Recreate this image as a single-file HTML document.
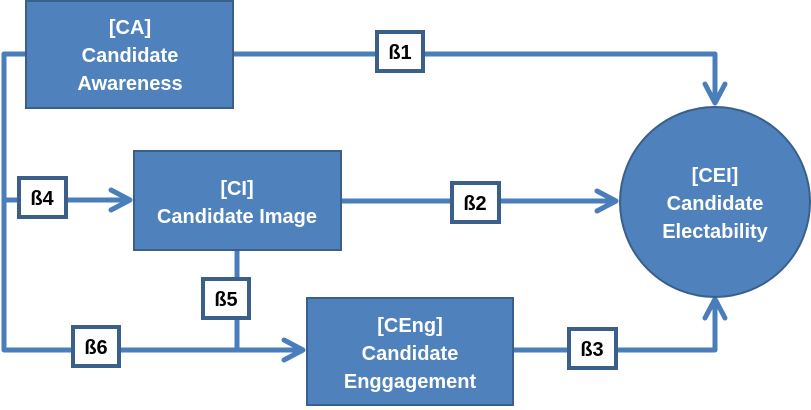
<!DOCTYPE html>
<html><head><style>
body{margin:0;background:#fff}
svg{display:block}
text{font-family:"Liberation Sans",sans-serif;font-weight:bold}
</style></head><body>
<svg width="811" height="410" viewBox="0 0 811 410">
<g stroke="#4a7ebb" stroke-width="5" fill="none" stroke-linecap="round" stroke-linejoin="round">
<polyline points="28,54 4,54 4,350 300,350"/>
<polyline points="233,54 715,54 715,100"/>
<line x1="4" y1="200" x2="128" y2="200"/>
<line x1="341" y1="201" x2="612" y2="201"/>
<line x1="237" y1="250" x2="237" y2="350"/>
<polyline points="513,350 715,350 715,303"/>
<polyline points="111,190 130,200 111,210"/>
<polyline points="284,340 303,350 284,360"/>
<polyline points="597,191 616,201 597,211"/>
<polyline points="705,84 715,103 725,84"/>
<polyline points="705,318 715,299 725,318"/>
</g>
<g fill="#4f81bd" stroke="#3a5f8b" stroke-width="2">
<rect x="26" y="1" width="207" height="107"/>
<rect x="134" y="151" width="207" height="99"/>
<rect x="307" y="298" width="206" height="107"/>
<circle cx="715" cy="202" r="95"/>
</g>
<g fill="#fff" stroke="#3a5f8b" stroke-width="4">
<rect x="377" y="32" width="46" height="39"/>
<rect x="19" y="178" width="47" height="39"/>
<rect x="452" y="183" width="47" height="39"/>
<rect x="203" y="279" width="46" height="39"/>
<rect x="73" y="327" width="46" height="39"/>
<rect x="569" y="329" width="47" height="39"/>
</g>
<g fill="#000" font-size="20" text-anchor="middle">
<text x="400" y="59">ß1</text>
<text x="42" y="205">ß4</text>
<text x="475" y="210">ß2</text>
<text x="226" y="306">ß5</text>
<text x="96" y="354">ß6</text>
<text x="592" y="356">ß3</text>
</g>
<g fill="#fff" font-size="20" text-anchor="middle">
<text x="130" y="34">[CA]</text>
<text x="130" y="62">Candidate</text>
<text x="130" y="90">Awareness</text>
<text x="237" y="195">[CI]</text>
<text x="237" y="223">Candidate Image</text>
<text x="410" y="332">[CEng]</text>
<text x="410" y="360">Candidate</text>
<text x="410" y="388">Enggagement</text>
<text x="715" y="182">[CEI]</text>
<text x="715" y="210">Candidate</text>
<text x="715" y="238">Electability</text>
</g>
</svg>
</body></html>
